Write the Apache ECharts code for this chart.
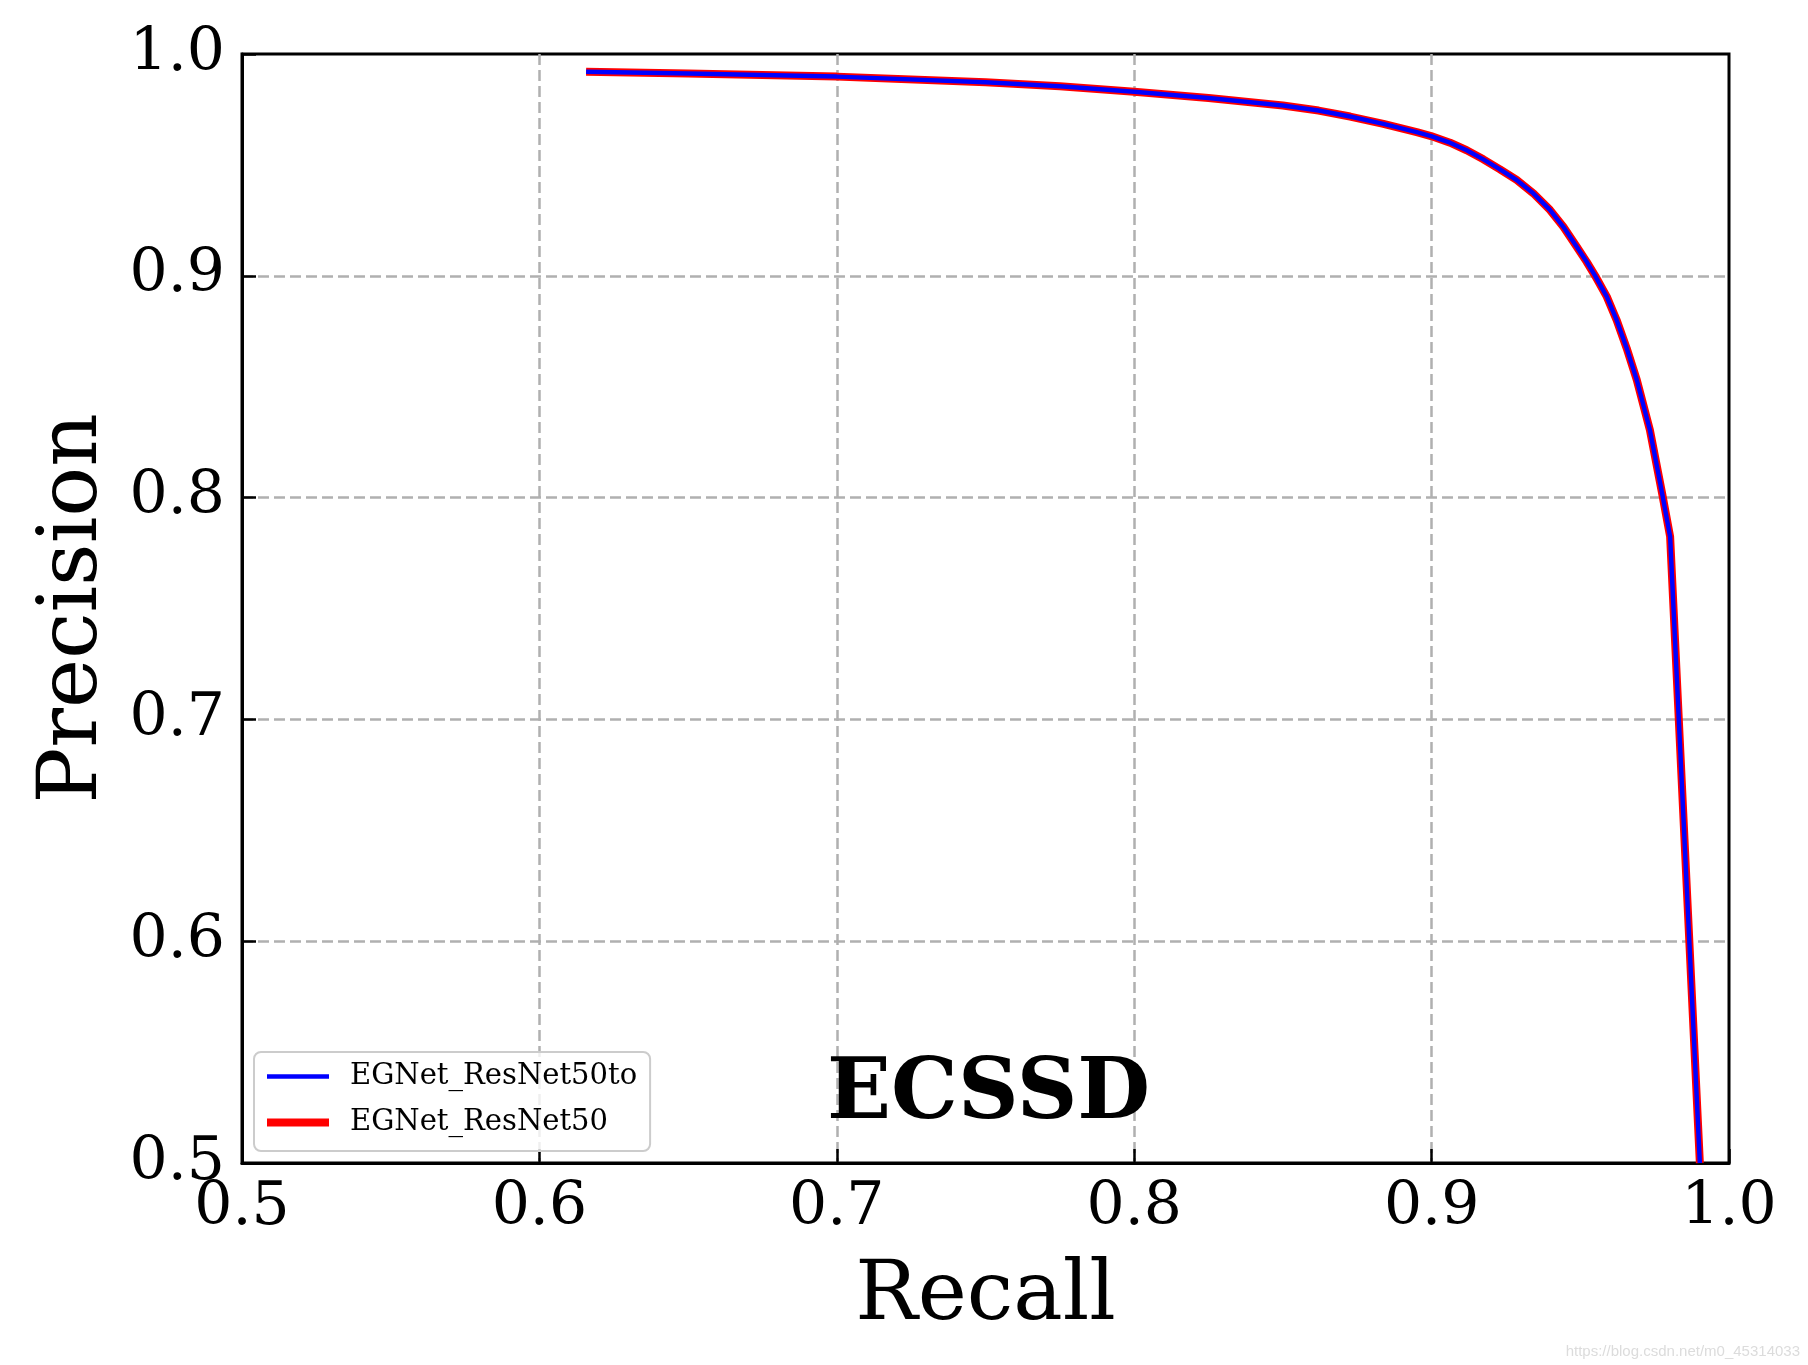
<!DOCTYPE html>
<html>
<head>
<meta charset="utf-8">
<script src="https://cdn.jsdelivr.net/npm/echarts@6/dist/echarts.min.js"></script>
<style>
html,body{margin:0;padding:0;background:#fff;}
#chart{width:1808px;height:1365px;}
</style>
</head>
<body>
<div id="chart"></div>
<script>
// Data (recall, precision)
const recall = [0.6157, 0.65, 0.70, 0.75, 0.775, 0.80, 0.825, 0.85, 0.8620, 0.8726, 0.8838, 0.8950, 0.8998, 0.9062, 0.9118, 0.9174, 0.9230, 0.9286, 0.9342, 0.9398, 0.9443, 0.9488, 0.9521, 0.9550, 0.9589, 0.9622, 0.9656, 0.9690, 0.9734, 0.9775, 0.9802, 0.9902];
const precisionTo = [0.9920, 0.9912, 0.9898, 0.9873, 0.9855, 0.9830, 0.9802, 0.9768, 0.9745, 0.9718, 0.9685, 0.9648, 0.9630, 0.9600, 0.9566, 0.9525, 0.9480, 0.9432, 0.9372, 0.9297, 0.9221, 0.9131, 0.9064, 0.9000, 0.8906, 0.8801, 0.8673, 0.8530, 0.8305, 0.8020, 0.7824, 0.5000];
const precisionBase = [0.9920, 0.9912, 0.9898, 0.9873, 0.9855, 0.9830, 0.9802, 0.9768, 0.9745, 0.9718, 0.9685, 0.9648, 0.9630, 0.9600, 0.9566, 0.9525, 0.9480, 0.9432, 0.9372, 0.9297, 0.9221, 0.9131, 0.9064, 0.9000, 0.8906, 0.8801, 0.8673, 0.8530, 0.8305, 0.8020, 0.7824, 0.5000];
const seriesNames = ['EGNet_ResNet50to', 'EGNet_ResNet50'];
const xTicks = [0.5, 0.6, 0.7, 0.8, 0.9, 1.0];
const yTicks = [0.5, 0.6, 0.7, 0.8, 0.9, 1.0];
const datasetTitle = 'ECSSD';
const watermark = 'https://blog.csdn.net/m0_45314033';

const pairs = (xs, ys) => xs.map((x, i) => [x, ys[i]]);
const serif = '"DejaVu Serif", "Liberation Serif", serif';

const chart = echarts.init(document.getElementById('chart'));
const gridLine = { show: true, showMinLine: false, showMaxLine: false,
                   lineStyle: { color: '#b0b0b0', type: [11, 5], width: 2.5 } };
chart.setOption({
  animation: false,
  backgroundColor: '#fff',
  grid: { left: 242, right: 79, top: 54, bottom: 202, containLabel: false, outerBoundsMode: 'none',
          show: true, borderColor: '#000', borderWidth: 3, backgroundColor: 'transparent' },
  xAxis: {
    type: 'value', min: xTicks[0], max: xTicks[xTicks.length - 1], interval: 0.1,
    name: 'Recall', nameLocation: 'middle', nameGap: 93,
    nameTextStyle: { fontFamily: serif, fontSize: 83, color: '#000' },
    axisLine: { show: true, lineStyle: { color: '#000', width: 3 } },
    axisTick: { show: true, inside: true, length: 14, lineStyle: { color: '#000', width: 2.5 } },
    axisLabel: { fontFamily: serif, fontSize: 60, color: '#000', margin: 15,
                 formatter: v => v.toFixed(1), showMinLabel: true, showMaxLabel: true },
    splitLine: gridLine
  },
  yAxis: {
    type: 'value', min: yTicks[0], max: yTicks[yTicks.length - 1], interval: 0.1,
    name: 'Precision', nameLocation: 'middle', nameGap: 126, nameRotate: 90,
    nameTextStyle: { fontFamily: serif, fontSize: 83, color: '#000' },
    axisLine: { show: true, lineStyle: { color: '#000', width: 3 } },
    axisTick: { show: true, inside: true, length: 14, lineStyle: { color: '#000', width: 2.5 } },
    axisLabel: { fontFamily: serif, fontSize: 60, color: '#000', margin: 17,
                 formatter: v => v.toFixed(1), showMinLabel: true, showMaxLabel: true },
    splitLine: gridLine
  },
  legend: {
    show: true,
    data: seriesNames,
    orient: 'vertical', left: 254, top: 1052,
    itemWidth: 62, itemHeight: 20, itemGap: 17,
    padding: [10, 13, 14, 9],
    backgroundColor: 'rgba(255,255,255,0.8)', borderColor: '#cccccc', borderWidth: 2, borderRadius: 7,
    itemStyle: { opacity: 0 },
    lineStyle: { width: 'inherit' },
    textStyle: { fontFamily: serif, fontSize: 29, color: '#000', padding: [0, 0, 0, 16] }
  },
  series: [
    { name: seriesNames[1], type: 'line', data: pairs(recall, precisionBase), showSymbol: false, symbol: 'none',
      lineStyle: { color: '#ff0000', width: 8 }, itemStyle: { color: '#ff0000' }, z: 2 },
    { name: seriesNames[0], type: 'line', data: pairs(recall, precisionTo), showSymbol: false, symbol: 'none',
      lineStyle: { color: '#0000ff', width: 4.5 }, itemStyle: { color: '#0000ff' }, z: 3 }
  ],
  graphic: [
    { type: 'text', left: 985 - 158, top: 1054, z: 10,
      style: { text: datasetTitle, font: 'bold 84px ' + serif, fill: '#000' } },
    { type: 'text', right: 8, bottom: 6, z: 10,
      style: { text: watermark, font: '15px Arial, "Liberation Sans", sans-serif', fill: '#dcdcdc' } }
  ]
});
</script>
</body>
</html>
